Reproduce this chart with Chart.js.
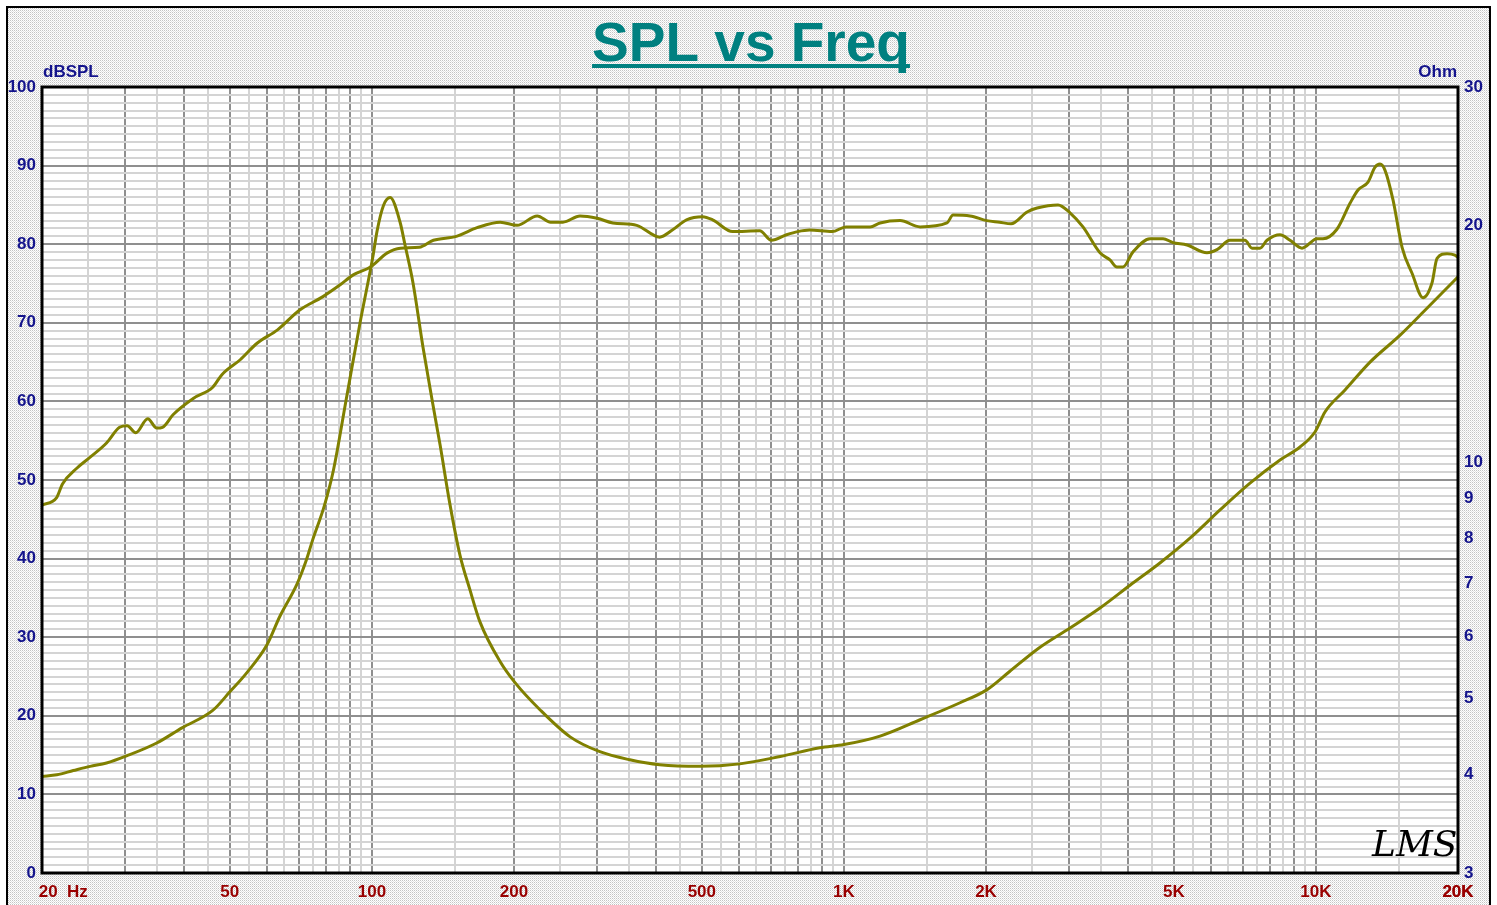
<!DOCTYPE html>
<html>
<head>
<meta charset="utf-8">
<title>SPL vs Freq</title>
<script src="https://cdn.jsdelivr.net/npm/chart.js@4/dist/chart.umd.min.js"></script>
<style>
  html, body { margin: 0; padding: 0; background: #fff; overflow: hidden; }
  canvas { display: block; }
</style>
</head>
<body>
<canvas id="splChart" width="1497" height="905"></canvas>
<script>
// SPL curve (Hz / dB)
const splFreq = [20, 21.5, 22.1, 23.7, 25.3, 27.4, 29.2, 30.3, 31.6, 33.5, 35, 36, 37.9, 41.9, 46, 48.1, 52.6, 57.1, 63.1, 70.2,
    78.6, 85.5, 91.3, 99.3, 107.8, 114.9, 126, 135, 151, 167, 187, 203, 224, 239, 254, 276, 300, 324, 364, 407,
    433, 464, 502, 527, 581, 663, 702, 756, 798, 846, 944, 1010, 1136, 1193, 1315, 1450, 1653, 1703, 1850, 2007,
    2137, 2260, 2444, 2566, 2842, 3013, 3210, 3488, 3662, 3788, 3902, 4096, 4452, 4743, 4980, 5332, 5877, 6172, 6577, 7076,
    7322, 7612, 7876, 8394, 8814, 9344, 10056, 10352, 11080, 11810, 12280, 12894, 13344, 13672, 14010, 14570, 15224, 15982, 16862, 17622,
    18056, 18956, 19706, 20000];
const splDb = [46.8, 47.8, 49.5, 51.5, 52.9, 54.7, 56.7, 56.9, 56.0, 57.8, 56.6, 56.7, 58.3, 60.4, 61.8, 63.4, 65.3, 67.4, 69.1, 71.6,
    73.3, 74.8, 76.1, 77.1, 78.9, 79.5, 79.6, 80.5, 81.0, 82.1, 82.8, 82.4, 83.6, 82.8, 82.8, 83.6, 83.3, 82.7, 82.4, 80.9,
    81.8, 83.1, 83.5, 83.1, 81.6, 81.7, 80.5, 81.2, 81.6, 81.8, 81.6, 82.2, 82.2, 82.7, 83.0, 82.2, 82.7, 83.7, 83.6, 83.0,
    82.8, 82.6, 84.1, 84.6, 85.0, 84.0, 82.2, 78.9, 78.0, 77.1, 77.1, 79.0, 80.7, 80.7, 80.2, 79.9, 78.9, 79.3, 80.5, 80.5,
    79.5, 79.5, 80.5, 81.2, 80.5, 79.5, 80.7, 80.7, 81.9, 85.2, 86.9, 87.9, 89.8, 90.2, 89.4, 85.6, 79.6, 76.3, 73.2, 75.1,
    78.2, 78.8, 78.6, 78.3];

// impedance curve (Hz / Ohm)
const impFreq = [20, 21.5, 23.3, 25.3, 27.4, 30.3, 35, 39.6, 46, 50, 54.4, 59.9, 63.8, 69.5, 72.6, 74.9, 79.3, 82.9, 88.4, 94.7,
    100.4, 102.6, 105.8, 109.3, 114.7, 117.5, 122.2, 128.3, 134.1, 139.5, 146.4, 153.6, 161.4, 169.4, 187, 201, 227, 263, 304, 352,
    407, 496, 602, 733, 889, 1000, 1193, 1450, 1762, 2007, 2241, 2590, 3013, 3488, 4038, 4672, 5410, 6264, 7250, 8394,
    9254, 9954, 10452, 11526, 13022, 15080, 17026, 18772, 20000];
const impOhm = [3.98, 4.0, 4.05, 4.10, 4.14, 4.23, 4.39, 4.59, 4.83, 5.10, 5.40, 5.85, 6.36, 7.01, 7.50, 7.96, 8.8, 9.77, 12.1, 15.2,
    18.2, 19.7, 21.2, 21.7, 20.2, 18.9, 16.9, 14.0, 12.0, 10.5, 8.82, 7.62, 6.87, 6.26, 5.57, 5.24, 4.84, 4.47, 4.28, 4.18,
    4.12, 4.10, 4.13, 4.22, 4.33, 4.37, 4.48, 4.70, 4.94, 5.13, 5.41, 5.80, 6.15, 6.52, 6.97, 7.44, 8.0, 8.69, 9.40, 10.06,
    10.45, 10.92, 11.58, 12.35, 13.4, 14.5, 15.6, 16.55, 17.2];

// axis labels
const xLabelVals = [20, 50, 100, 200, 500, 1000, 2000, 5000, 10000, 20000];
const xLabelText = ["         20  Hz", "50", "100", "200", "500", "1K", "2K", "5K", "10K", "20K"];
const ohmTicks = [3, 4, 5, 6, 7, 8, 9, 10, 20, 30];

// grid positions on the frequency axis: 1, 1.5, 2 ... 9.5 per decade
const xGridVals = [];
[10, 100, 1000, 10000].forEach(dec => {
    for (let k = 2; k < 20; k++) {
        const v = dec * k / 2;
        if (v >= 20 && v <= 20000) xGridVals.push(v);
    }
});
xGridVals.push(20000);

const LINE = "#808000";
const NAVY = "#14148c";
const DARKRED = "#990000";
const FONT = '"Liberation Sans", Arial, sans-serif';

// dotted backdrop like the LMS printout
const pat = document.createElement("canvas");
pat.width = 2; pat.height = 2;
const pctx = pat.getContext("2d");
pctx.fillStyle = "#ffffff"; pctx.fillRect(0, 0, 2, 2);
pctx.fillStyle = "#c4c4c4"; pctx.fillRect(0, 0, 1, 1);
pctx.fillStyle = "#e2e2e2"; pctx.fillRect(1, 1, 1, 1);

const ctx = document.getElementById("splChart").getContext("2d");
const stipple = ctx.createPattern(pat, "repeat");

const isMajor = v => {
    const m = v / Math.pow(10, Math.floor(Math.log10(v) + 1e-9));
    return Math.abs(m - Math.round(m)) < 1e-6;
};

const decorPlugin = {
    id: "decor",
    beforeDraw(chart) {
        const c = chart.ctx, a = chart.chartArea;
        c.save();
        c.fillStyle = "#fff";
        c.fillRect(0, 0, chart.width, chart.height);
        c.fillStyle = stipple;
        c.fillRect(8, 8, 1481, 897);
        c.strokeStyle = "#000";
        c.lineWidth = 2;
        c.strokeRect(7, 7, 1483, 905);
        c.fillStyle = "#fff";
        c.fillRect(a.left, a.top, a.right - a.left, a.bottom - a.top);
        c.restore();
    },
    afterDraw(chart) {
        const c = chart.ctx, a = chart.chartArea;
        c.save();
        // plot frame
        c.strokeStyle = "#000";
        c.lineWidth = 3;
        c.strokeRect(a.left, a.top, a.right - a.left, a.bottom - a.top);

        // title with underline
        c.font = "bold 55px " + FONT;
        c.fillStyle = "#008080";
        c.textAlign = "center";
        c.textBaseline = "alphabetic";
        const title = "SPL vs Freq";
        c.fillText(title, 751, 61);
        const w = c.measureText(title).width;
        c.fillRect(751 - w / 2, 64, w, 4);

        // unit labels
        c.font = "bold 17px " + FONT;
        c.fillStyle = NAVY;
        c.textBaseline = "middle";
        c.textAlign = "left";
        c.fillText("dBSPL", a.left + 1, 72);
        c.textAlign = "right";
        c.fillText("Ohm", a.right - 1, 72);

        // signature
        c.font = 'italic 36px "DejaVu Serif", serif';
        c.fillStyle = "#000";
        c.textAlign = "left";
        c.textBaseline = "alphabetic";
        c.fillText("LMS", 1372, 856);
        c.restore();
    }
};

new Chart(ctx, {
    type: "line",
    data: {
        datasets: [{
            label: "SPL",
            data: splFreq.map((f, i) => ({ x: f, y: splDb[i] })),
            yAxisID: "y",
            borderColor: LINE,
            borderWidth: 3,
            pointRadius: 0,
            cubicInterpolationMode: "monotone"
        }, {
            label: "Impedance",
            data: impFreq.map((f, i) => ({ x: f, y: impOhm[i] })),
            yAxisID: "y1",
            borderColor: LINE,
            borderWidth: 3,
            pointRadius: 0,
            cubicInterpolationMode: "monotone"
        }]
    },
    options: {
        responsive: false,
        animation: false,
        devicePixelRatio: 1,
        layout: { padding: { top: 87, left: 0, right: 0, bottom: 0 } },
        plugins: { legend: { display: false }, tooltip: { enabled: false }, title: { display: false } },
        scales: {
            x: {
                type: "logarithmic",
                min: 20,
                max: 20000,
                afterBuildTicks: s => { s.ticks = xGridVals.map(v => ({ value: v })); },
                afterFit: s => { s.height = 32; s.paddingLeft = 0; s.paddingRight = 0; },
                border: { display: false },
                grid: {
                    drawTicks: false,
                    color: c => isMajor(c.tick.value) ? "#8f8f8f" : "#d4d4d4",
                    lineWidth: 2
                },
                ticks: {
                    autoSkip: false,
                    maxRotation: 0,
                    padding: 9,
                    color: DARKRED,
                    font: { family: FONT, size: 17, weight: "bold" },
                    callback: v => {
                        const i = xLabelVals.indexOf(v);
                        return i >= 0 ? xLabelText[i] : "";
                    }
                }
            },
            y: {
                type: "linear",
                position: "left",
                min: 0,
                max: 100,
                afterFit: s => { s.width = 42; s.paddingTop = 0; s.paddingBottom = 0; },
                border: { display: false },
                grid: {
                    drawTicks: false,
                    color: c => c.tick.value % 10 === 0 ? "#8f8f8f" : "#d4d4d4",
                    lineWidth: 2
                },
                ticks: {
                    stepSize: 1,
                    autoSkip: false,
                    padding: 6,
                    color: NAVY,
                    font: { family: FONT, size: 17, weight: "bold" },
                    callback: v => v % 10 === 0 ? String(v) : ""
                }
            },
            y1: {
                type: "logarithmic",
                position: "right",
                min: 3,
                max: 30,
                afterBuildTicks: s => { s.ticks = ohmTicks.map(v => ({ value: v })); },
                afterFit: s => { s.width = 39; s.paddingTop = 0; s.paddingBottom = 0; },
                border: { display: false },
                grid: { drawOnChartArea: false, drawTicks: false },
                ticks: {
                    autoSkip: false,
                    padding: 6,
                    color: NAVY,
                    font: { family: FONT, size: 17, weight: "bold" },
                    callback: v => String(v)
                }
            }
        }
    },
    plugins: [decorPlugin]
});
</script>
</body>
</html>
